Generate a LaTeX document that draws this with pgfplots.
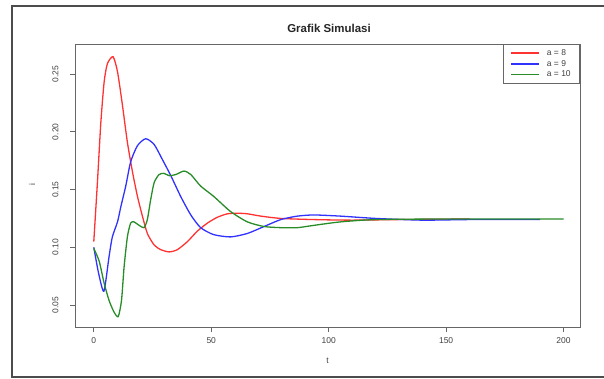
\documentclass[border=0pt]{standalone}
\usepackage{pgfplots}
\pgfplotsset{compat=1.18}
\usepackage{fontspec}
\setmainfont{Liberation Sans}
\definecolor{rred}{RGB}{255,50,50}
\definecolor{rblue}{RGB}{50,50,255}
\definecolor{rgreen}{RGB}{40,140,40}
\begin{document}
\begin{tikzpicture}
\path[use as bounding box] (0bp,0bp) rectangle (604bp,-379bp);
\draw[line width=1.3bp, black!70] (606bp,-6bp) -- (12bp,-6bp) -- (12bp,-377bp) -- (606bp,-377bp);
\node[font=\fontsize{11.5}{13}\selectfont\bfseries, text=black!85] at (329bp,-28bp) {Grafik Simulasi};
\node[font=\fontsize{8.5}{10}\selectfont, text=black!75, rotate=90] at (32bp,-185bp) {i};
\begin{axis}[
  at={(75bp,-327bp)}, anchor=south west,
  scale only axis, width=505bp, height=283bp,
  xmin=-8, xmax=207, ymin=0.031, ymax=0.276,
  xtick={0,50,100,150,200},
  ytick={0.05,0.10,0.15,0.20,0.25},
  /pgf/number format/assume math mode=true,
  yticklabel style={rotate=90, anchor=south, /pgf/number format/.cd, fixed, fixed zerofill, precision=2},
  yticklabel shift=8bp,
  xticklabel shift=2bp,
  ticklabel style={font=\fontsize{8.5}{10}\selectfont, text=black!75},
  tick align=outside, tick pos=left,
  major tick length=5bp,
  tick style={black!60, line width=0.6bp},
  axis line style={black!60, line width=0.8bp},
  xlabel={t},
  label style={font=\fontsize{8.5}{10}\selectfont, text=black!75},
  xlabel style={at={(axis description cs:0.5,0)}, anchor=center, yshift=-34bp},
  legend style={at={(1,1)}, anchor=north east, draw=black!60, line width=0.6bp,
    font=\fontsize{8.5}{10}\selectfont, text=black!75, inner xsep=7bp, inner ysep=3bp,
    row sep=-0.5bp, column sep=5bp},
  legend cell align=left,
  legend image code/.code={\draw[#1, line width=1.3bp] (0bp,0bp) -- (28bp,0bp);},
]
\addplot[rred, line width=1.3bp, smooth, tension=0.4] coordinates {
(0,0.105)(1.6,0.158)(3,0.208)(4.4,0.243)(5.8,0.259)(8.2,0.265)(10.1,0.252)(12.2,0.223)(14.3,0.191)(16.5,0.165)(18.6,0.144)(20.7,0.127)(22.8,0.112)(25.7,0.102)(28.5,0.098)(32.1,0.096)(35.6,0.098)(39.9,0.105)(44.1,0.114)(48.4,0.121)(52.6,0.126)(56.9,0.129)(61.1,0.1295)(65.4,0.129)(71.1,0.127)(79.6,0.125)(93.7,0.124)(110,0.1235)(130,0.124)(160,0.1245)
};
\addlegendentry{a = 8}
\addplot[rblue, line width=1.3bp, smooth, tension=0.4] coordinates {
(0,0.100)(2,0.078)(4.3,0.062)(6.5,0.092)(7.9,0.109)(10.1,0.122)(11.5,0.135)(13.6,0.153)(15.7,0.174)(18.6,0.188)(22.1,0.194)(25.7,0.189)(29.2,0.176)(32.8,0.162)(37,0.144)(41.3,0.128)(45.5,0.117)(51,0.111)(58.2,0.109)(65.4,0.112)(72.5,0.118)(79.6,0.124)(86.7,0.127)(93.7,0.128)(105,0.127)(120,0.125)(140,0.1235)(160,0.124)(190,0.124)
};
\addlegendentry{a = 9}
\addplot[rgreen, line width=1.3bp, smooth, tension=0.4] coordinates {
(0,0.099)(2.3,0.088)(4.4,0.069)(6.5,0.054)(8.6,0.044)(10.4,0.040)(11.8,0.054)(12.9,0.083)(14.3,0.109)(15.7,0.121)(17.1,0.122)(19.3,0.119)(21.4,0.117)(22.8,0.124)(24.2,0.141)(25.7,0.156)(27.8,0.163)(29.9,0.164)(32.1,0.162)(34.9,0.163)(38.4,0.166)(41.3,0.163)(45.5,0.153)(51.1,0.144)(58.2,0.131)(65.4,0.122)(72.5,0.118)(79.6,0.117)(86.7,0.117)(93.7,0.119)(105,0.122)(120,0.124)(150,0.1245)(200,0.1245)
};
\addlegendentry{a = 10}
\end{axis}
\end{tikzpicture}
\end{document}
